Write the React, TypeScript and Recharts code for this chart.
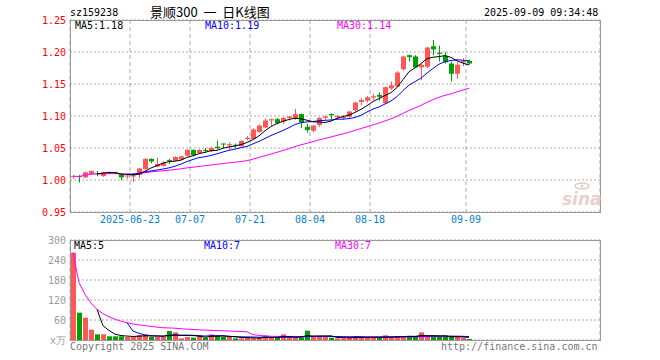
import { Bar, CartesianGrid, Cell, ComposedChart, Line, XAxis, YAxis } from 'recharts';

// daily candles, 2025-06-09 .. 2025-09-09
const OPEN = [
  1.005, 1.006, 1.004, 1.009, 1.011, 1.006, 1.012, 1.012, 1.009, 1.006,
  1.006, 1.008, 1.017, 1.033, 1.021, 1.022, 1.031, 1.030, 1.032, 1.038,
  1.047, 1.042, 1.047, 1.045, 1.052, 1.057, 1.054, 1.055, 1.053, 1.064,
  1.064, 1.075, 1.082, 1.093, 1.095, 1.091, 1.097, 1.096, 1.103, 1.083,
  1.077, 1.086, 1.097, 1.103, 1.098, 1.097, 1.099, 1.109, 1.122, 1.124,
  1.129, 1.133, 1.120, 1.143, 1.146, 1.173, 1.195, 1.193, 1.176, 1.177,
  1.209, 1.199, 1.194, 1.182, 1.166, 1.184, 1.186,
];
const HIGH = [
  1.008, 1.008, 1.013, 1.015, 1.014, 1.013, 1.013, 1.013, 1.010, 1.009,
  1.010, 1.019, 1.034, 1.034, 1.035, 1.029, 1.033, 1.037, 1.038, 1.048,
  1.048, 1.048, 1.050, 1.052, 1.062, 1.057, 1.059, 1.057, 1.062, 1.069,
  1.081, 1.087, 1.096, 1.096, 1.097, 1.098, 1.100, 1.111, 1.104, 1.088,
  1.086, 1.098, 1.101, 1.104, 1.102, 1.101, 1.108, 1.122, 1.128, 1.131,
  1.135, 1.137, 1.146, 1.154, 1.170, 1.194, 1.196, 1.195, 1.182, 1.208,
  1.219, 1.210, 1.200, 1.185, 1.184, 1.190, 1.188,
];
const LOW = [
  1.002, 0.996, 1.003, 1.008, 1.006, 1.005, 1.009, 1.009, 1.000, 1.002,
  0.997, 1.003, 1.016, 1.026, 1.020, 1.021, 1.025, 1.029, 1.031, 1.037,
  1.037, 1.041, 1.043, 1.044, 1.048, 1.050, 1.047, 1.050, 1.052, 1.062,
  1.063, 1.074, 1.081, 1.085, 1.087, 1.088, 1.093, 1.094, 1.081, 1.074,
  1.075, 1.083, 1.094, 1.095, 1.096, 1.094, 1.097, 1.107, 1.117, 1.121,
  1.125, 1.124, 1.119, 1.141, 1.145, 1.171, 1.185, 1.175, 1.156, 1.175,
  1.195, 1.185, 1.182, 1.154, 1.158, 1.178, 1.180,
];
const CLOSE = [
  1.006, 1.005, 1.012, 1.014, 1.010, 1.012, 1.011, 1.010, 1.004, 1.007,
  1.007, 1.018, 1.033, 1.029, 1.025, 1.027, 1.030, 1.036, 1.037, 1.047,
  1.039, 1.047, 1.046, 1.050, 1.050, 1.056, 1.056, 1.054, 1.061, 1.066,
  1.079, 1.085, 1.093, 1.095, 1.089, 1.097, 1.099, 1.103, 1.090, 1.078,
  1.085, 1.097, 1.099, 1.101, 1.100, 1.099, 1.107, 1.121, 1.125, 1.129,
  1.131, 1.130, 1.145, 1.148, 1.168, 1.193, 1.192, 1.176, 1.180, 1.207,
  1.204, 1.197, 1.184, 1.166, 1.180, 1.186, 1.182,
];
// volume, 万
const VOLUME = [
  262, 82, 67, 31, 17, 17, 11, 11, 11, 9,
  11, 15, 17, 9, 9, 9, 27, 23, 5, 9,
  7, 14, 7, 17, 12, 9, 9, 5, 5, 7,
  5, 7, 14, 7, 7, 17, 7, 7, 7, 28,
  9, 9, 9, 7, 5, 5, 7, 12, 9, 9,
  7, 7, 14, 9, 12, 9, 12, 12, 23, 9,
  9, 9, 13, 9, 9, 6, 3,
];

const DATE_TICK_INDEX = [10, 20, 30, 40, 50, 66];
const DATE_TICK_LABELS = ['2025-06-23', '07-07', '07-21', '08-04', '08-18', '09-09'];
const PRICE_TICKS = [0.95, 1.0, 1.05, 1.1, 1.15, 1.2, 1.25];
const VOLUME_TICKS = [0, 60, 120, 180, 240, 300];

const RED = '#ff5757';
const GREEN = '#00a000';
const MONO = '"DejaVu Sans Mono", monospace';
const X_DOMAIN: [number, number] = [-0.5, 87.83];
const X_TICKS = DATE_TICK_INDEX.map((i) => i - 0.5);

function movingAvg(arr: number[], n: number, partial: boolean) {
  return arr.map((_, i) => {
    if (i < n - 1 && !partial) return null;
    const win = arr.slice(Math.max(0, i - n + 1), i + 1);
    return win.reduce((a, b) => a + b, 0) / win.length;
  });
}

const pMa5 = movingAvg(CLOSE, 5, false);
const pMa10 = movingAvg(CLOSE, 10, false);
const pMa30 = movingAvg(CLOSE, 30, true);
const vMa5 = movingAvg(VOLUME, 5, false);
const vMa10 = movingAvg(VOLUME, 10, false);
const vMa30 = movingAvg(VOLUME, 30, true);

const rows = CLOSE.map((c, i) => ({
  idx: i,
  open: OPEN[i],
  high: HIGH[i],
  low: LOW[i],
  close: c,
  range: [LOW[i], HIGH[i]],
  ma5: pMa5[i],
  ma10: pMa10[i],
  ma30: pMa30[i],
  vol: VOLUME[i],
  vma5: vMa5[i],
  vma10: vMa10[i],
  vma30: vMa30[i],
}));

const Candle = (props: any) => {
  const { x, y, width, height, payload } = props;
  const { open, close, high, low } = payload;
  const color = close >= open ? RED : GREEN;
  const top = Math.min(y, y + height);
  const h = Math.abs(height);
  const k = high > low ? h / (high - low) : 0;
  const py = (v: number) => top + (high - v) * k;
  const cx = Math.floor(x + width / 2) + 0.5;
  const bodyTop = py(Math.max(open, close));
  const bodyH = Math.max(1, Math.abs(open - close) * k);
  return (
    <g>
      <line x1={cx} x2={cx} y1={top} y2={top + h} stroke={color} strokeWidth={1} />
      <rect x={Math.round(x)} y={bodyTop} width={width} height={bodyH} fill={color} />
    </g>
  );
};

const dateLabel = (v: number) => {
  const k = DATE_TICK_INDEX.indexOf(v + 0.5);
  return k >= 0 ? DATE_TICK_LABELS[k] : '';
};

const txt = (left: number, top: number, color: string, s: string, extra: any = {}) => (
  <div
    style={{
      position: 'absolute',
      left,
      top,
      color,
      fontFamily: MONO,
      fontSize: 10,
      lineHeight: '10px',
      whiteSpace: 'pre',
      ...extra,
    }}
  >
    {s}
  </div>
);

export default function App() {
  return (
    <div style={{ position: 'absolute', left: 0, top: 0, width: 660, height: 360, background: '#fff' }}>
      {txt(70, 8, '#000', 'sz159238')}
      <div
        style={{
          position: 'absolute',
          left: 150,
          top: 5,
          fontFamily: '"Noto Sans CJK SC", sans-serif',
          fontSize: 13,
          lineHeight: '14px',
          color: '#000',
          whiteSpace: 'pre',
        }}
      >
        {'景顺300  一  日K线图'}
      </div>
      {txt(484, 8, '#000', '2025-09-09 09:34:48')}

      <div style={{ position: 'absolute', left: 0, top: 0 }}>
        <ComposedChart width={660} height={232} data={rows} margin={{ top: 20, right: 60, bottom: 0, left: 0 }}>
          <CartesianGrid horizontal vertical={false} stroke="#aaa" strokeDasharray="2 2" />
          <CartesianGrid horizontal={false} vertical stroke="#aaa" strokeDasharray="4 3" />
          <XAxis
            dataKey="idx"
            type="number"
            domain={X_DOMAIN}
            allowDataOverflow
            ticks={X_TICKS}
            interval={0}
            tickFormatter={dateLabel}
            height={20}
            axisLine={false}
            tickLine={false}
            tickSize={0}
            tickMargin={4}
            tick={{ fill: '#0a7fd2', fontSize: 10, fontFamily: MONO }}
          />
          <YAxis
            domain={[0.95, 1.25]}
            ticks={PRICE_TICKS}
            interval={0}
            allowDataOverflow
            width={70}
            axisLine={false}
            tickLine={false}
            tickSize={0}
            tickMargin={4}
            tickFormatter={(v: number) => v.toFixed(2)}
            tick={{ fill: '#f00', fontSize: 10, fontFamily: MONO }}
          />
          <Bar dataKey="range" barSize={5} shape={Candle} isAnimationActive={false} />
          <Line dataKey="ma30" stroke="#ff00ff" strokeWidth={1} dot={false} isAnimationActive={false} />
          <Line dataKey="ma10" stroke="#0000ff" strokeWidth={1} dot={false} isAnimationActive={false} />
          <Line dataKey="ma5" stroke="#000" strokeWidth={1} dot={false} isAnimationActive={false} />
        </ComposedChart>
      </div>

      <div style={{ position: 'absolute', left: 0, top: 230 }}>
        <ComposedChart width={660} height={130} data={rows} margin={{ top: 10, right: 60, bottom: 20, left: 0 }}>
          <CartesianGrid horizontal vertical={false} stroke="#aaa" strokeDasharray="2 2" />
          <CartesianGrid horizontal={false} vertical stroke="#aaa" strokeDasharray="4 3" />
          <XAxis
            dataKey="idx"
            type="number"
            domain={X_DOMAIN}
            allowDataOverflow
            ticks={X_TICKS}
            interval={0}
            height={0}
            tick={false}
            axisLine={false}
            tickLine={false}
          />
          <YAxis
            domain={[0, 300]}
            ticks={VOLUME_TICKS}
            interval={0}
            allowDataOverflow
            width={70}
            axisLine={false}
            tickLine={false}
            tickSize={0}
            tickMargin={4}
            tickFormatter={(v: number) => (v === 0 ? 'x万' : String(v))}
            tick={{ fill: '#999', fontSize: 10, fontFamily: MONO }}
          />
          <Bar dataKey="vol" barSize={5} isAnimationActive={false}>
            {rows.map((r) => (
              <Cell key={r.idx} fill={r.close >= r.open ? RED : GREEN} />
            ))}
          </Bar>
          <Line dataKey="vma30" stroke="#ff00ff" strokeWidth={1} dot={false} isAnimationActive={false} />
          <Line dataKey="vma10" stroke="#0000ff" strokeWidth={1} dot={false} isAnimationActive={false} />
          <Line dataKey="vma5" stroke="#000" strokeWidth={1} dot={false} isAnimationActive={false} />
        </ComposedChart>
      </div>

      {/* panel frames */}
      <div style={{ position: 'absolute', left: 70, top: 20, width: 529, height: 191, border: '1px solid #999' }} />
      <div style={{ position: 'absolute', left: 70, top: 240, width: 529, height: 99, border: '1px solid #999' }} />

      {txt(75, 21, '#000', 'MA5:1.18')}
      {txt(205, 21, '#0000ff', 'MA10:1.19')}
      {txt(337, 21, '#ff00ff', 'MA30:1.14')}
      {txt(74, 241, '#000', 'MA5:5')}
      {txt(204, 241, '#0000ff', 'MA10:7')}
      {txt(335, 241, '#ff00ff', 'MA30:7')}

      {/* sina watermark */}
      <svg style={{ position: 'absolute', left: 574, top: 182 }} width={16} height={8}>
        <ellipse cx={8} cy={4} rx={7} ry={3} fill="none" stroke="#e6caca" strokeWidth={1.5} />
        <circle cx={8} cy={4} r={1.5} fill="#e6caca" />
      </svg>
      <div
        style={{
          position: 'absolute',
          left: 562,
          top: 190,
          fontFamily: '"DejaVu Sans", sans-serif',
          fontSize: 17,
          fontWeight: 'bold',
          fontStyle: 'italic',
          color: '#e8d0d0',
          lineHeight: '18px',
        }}
      >
        sina
      </div>

      {txt(70, 342, '#777', 'Copyright 2025 SINA.COM')}
      {txt(441, 342, '#777', 'http://finance.sina.com.cn')}
    </div>
  );
}
